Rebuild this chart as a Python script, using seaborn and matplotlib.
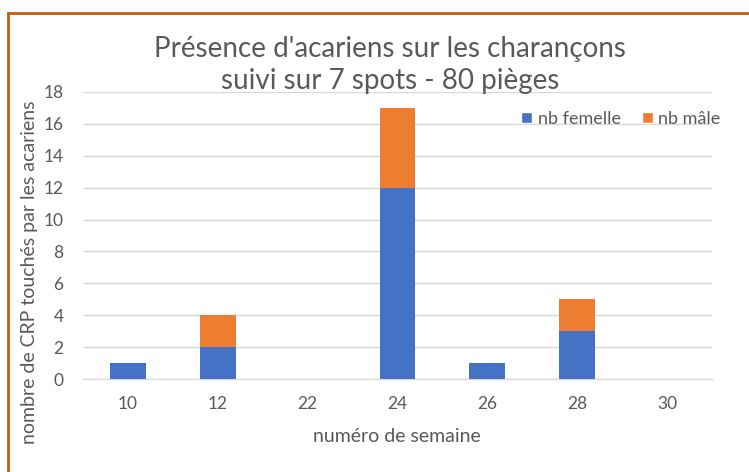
import numpy as np
import pandas as pd
import matplotlib as mpl
import matplotlib.pyplot as plt
import seaborn as sns
from matplotlib.patches import Rectangle, Patch

# ---- data -------------------------------------------------------------------
semaines = ["10", "12", "22", "24", "26", "28", "30"]
nb_femelle = [1, 2, 0, 12, 1, 3, 0]
nb_male = [0, 2, 0, 5, 0, 2, 0]

BLUE = "#4472C4"
ORANGE = "#ED7D31"
GREY = "#595959"

df = pd.DataFrame({"semaine": semaines, "femelle": nb_femelle, "male": nb_male})
df["total"] = df["femelle"] + df["male"]

sns.set_style("white")
plt.rcParams["font.family"] = ["Lato", "DejaVu Sans"]

W, H = 749, 472
fig = plt.figure(figsize=(W / 100, H / 100), dpi=100)

# plot area in pixel coordinates
x0, x1, y_top, y_zero = 83, 712, 92, 379
ax = fig.add_axes([x0 / W, 1 - y_zero / H, (x1 - x0) / W, (y_zero - y_top) / H])

# stacked: total (orange) behind, femelle (blue) in front
sns.barplot(data=df, x="semaine", y="total", order=semaines, color=ORANGE,
            width=0.4, linewidth=0, saturation=1, ax=ax, zorder=2)
sns.barplot(data=df, x="semaine", y="femelle", order=semaines, color=BLUE,
            width=0.4, linewidth=0, saturation=1, ax=ax, zorder=3)

ax.set_ylim(0, 18)
ax.set_yticks(range(0, 19, 2))
ax.set_xlim(-0.5, len(semaines) - 0.5)
ax.yaxis.grid(True, color="#D9D9D9", linewidth=1.0, zorder=0)
ax.set_axisbelow(True)
for s in ["top", "right", "left"]:
    ax.spines[s].set_visible(False)
ax.spines["bottom"].set_color("#D9D9D9")
ax.spines["bottom"].set_linewidth(1.0)
ax.tick_params(axis="both", length=0, labelsize=12.5, colors=GREY)
ax.tick_params(axis="x", pad=12)
ax.tick_params(axis="y", pad=14)
ax.set_xlabel("")
ax.set_ylabel("")

fig.text(397 / W, 1 - 437 / H, "numéro de semaine", ha="center", va="center",
         fontsize=14, color=GREY)
fig.text(30 / W, 1 - 272 / H, "nombre de CRP touchés par les acariens",
         ha="center", va="center", rotation=90, fontsize=14, color=GREY)
fig.text(390 / W, 1 - 65 / H,
         "Présence d'acariens sur les charançons\nsuivi sur 7 spots - 80 pièges",
         ha="center", va="center", fontsize=20, color=GREY, linespacing=1.3)

handles = [Patch(facecolor=BLUE, label="nb femelle"),
           Patch(facecolor=ORANGE, label="nb mâle")]
fig.legend(handles=handles, loc="center", bbox_to_anchor=(621 / W, 1 - 119 / H),
           ncol=2, frameon=False, fontsize=13, labelcolor=GREY,
           handlelength=0.6, handleheight=0.6, handletextpad=0.3, columnspacing=1.2)

# orange chart-area border (cut by the image edges)
fig.patches.append(Rectangle((8 / W, -0.1), 1.0, 1.1 - 13 / H,
                             transform=fig.transFigure, fill=False,
                             edgecolor="#C55A11", linewidth=2.0))

fig.savefig("out.png", dpi=100)
